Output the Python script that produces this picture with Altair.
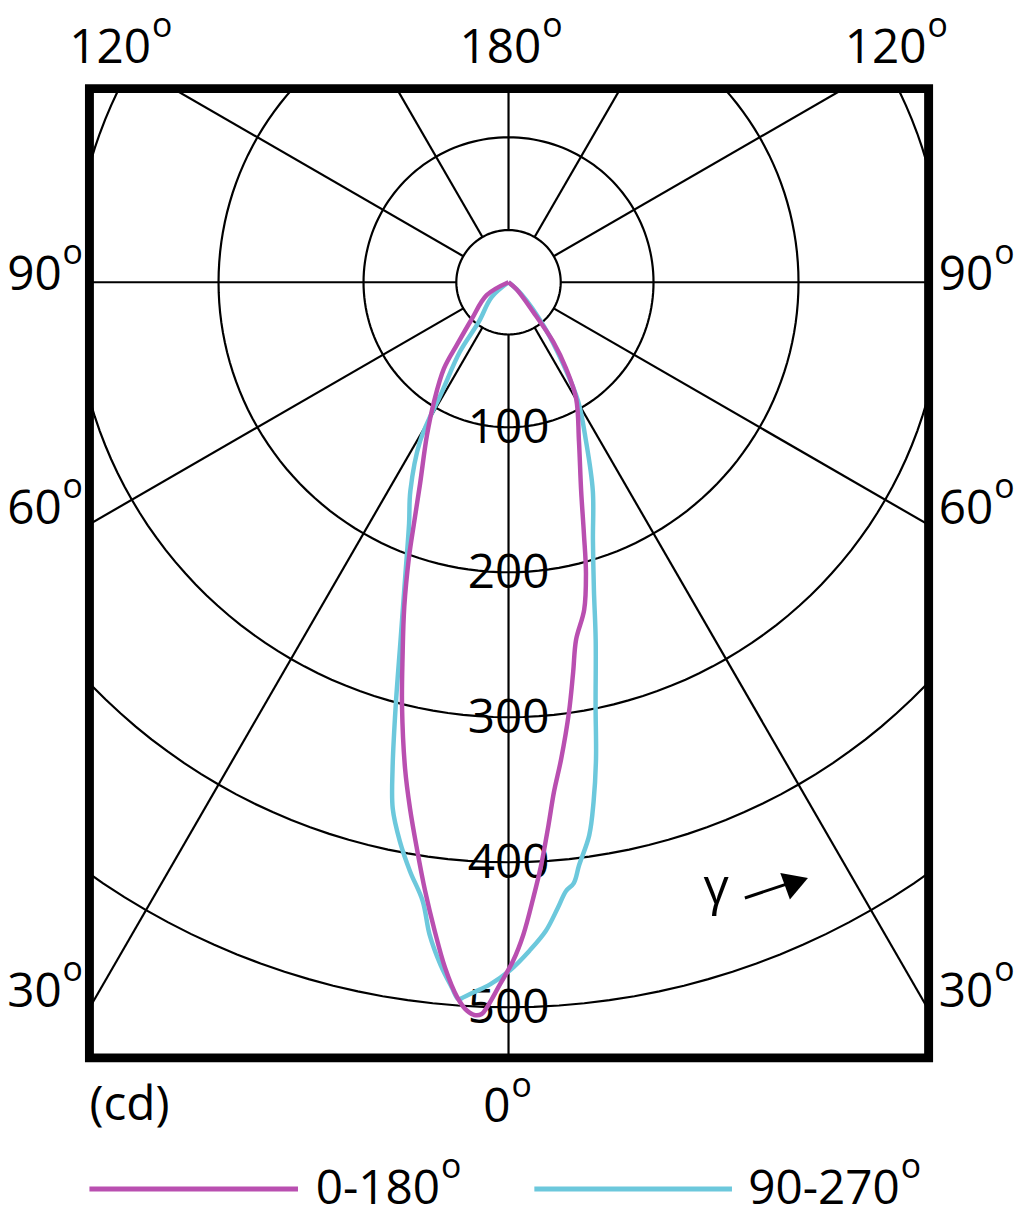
import altair as alt
import numpy as np
import pandas as pd

# ---------------- data ----------------
ring_values = [100, 200, 300, 400, 500]          # cd rings
inner_ring = 36                                  # small centre ring (cd)
spoke_angles = [-150, -120, -90, -60, -30, 0, 30, 60, 90, 120, 150, 180]

series_names = ["0-180°", "90-270°"]
series_colors = ["#B94FB0", "#6CC8DC"]

# C0-180 plane: signed gamma (deg, negative = left half) and intensity (cd)
c0_gamma = [-180, -59.4, -45, -39.5, -36.8, -32, -28, -23.7, -21.4, -19.9, -17.8, -15.8,
            -14.1, -12.0, -10.6, -9.2, -7.8, -6.5, -5.3, -4.1, -3.3, -2.6, -2.1, -1.7,
            -0.7, 0.4, 1.3, 2.3, 3.2, 4.2, 5.1, 6.3, 8.0, 9.4, 10.7, 13.0, 14.9, 16.7,
            19.2, 23.9, 30.2, 33.7, 36.9, 39.8, 48.8, 180]
c0_cd = [0, 17.5, 35.8, 56, 74.4, 96.9, 120, 151.8, 178.7, 201.7, 235.2, 268.4,
         301.5, 343.1, 369.3, 395.5, 423.8, 450.1, 474.6, 494.4, 502.9, 506.0, 505.0, 500.2,
         484.3, 467.8, 450.1, 425.0, 402.7, 375.7, 352.8, 330.8, 299.5, 272.8, 250.9, 231.9,
         207.7, 180.9, 152.3, 119.9, 92.7, 71.6, 51.4, 26.8, 7.3, 0]

# C90-270 plane
c90_gamma = [-180, -48.6, -36.9, -35.0, -31.3, -29.1, -25.2, -22.4, -19.5, -16.8, -14.9,
             -13.4, -12.4, -11.0, -9.5, -7.9, -6.9, -5.7, -4.6, -4.0, -3.6, -2.8, -1.5,
             0.1, 1.8, 3.3, 4.5, 5.4, 6.2, 6.9, 8.3, 9.3, 10.4, 11.6, 13.7, 15.5, 18.1,
             22.0, 26.0, 30.3, 33.8, 38.7, 47.3, 180]
c90_cd = [0, 15.5, 34.2, 58.5, 88.2, 125.4, 159.0, 180.0, 212.9, 257.6, 302.7,
          345.1, 371.8, 392.8, 411.8, 430.8, 453.2, 472.9, 487.9, 495.7, 494.1, 490.3, 484.4,
          474.7, 461.2, 448.0, 432.9, 421.7, 416.8, 405.0, 385.5, 363.0, 334.2, 298.6, 253.8,
          220.4, 187.4, 155.2, 121.9, 95.2, 67.6, 39.5, 12.1, 0]

angle_labels_top = ["120", "180", "120"]
angle_labels_left = ["90", "60", "30"]
angle_labels_right = ["90", "60", "30"]
bottom_label = "0"
unit_label = "(cd)"
gamma_label = "γ"

# ---------------- layout ----------------
PX = 1.46                      # pixels per cd
CX, CY = 512, 280              # page position of the pole
L, R, T, B = 90, 935, 85, 1061 # frame (page px)
W, H = R - L, B - T
FONT = "Open Sans"
FS = 48
SUP = 34
INK = "#000000"

xs = alt.Scale(domain=[(L - CX) / PX, (R - CX) / PX], nice=False, zero=False)
ys = alt.Scale(domain=[(CY - B) / PX, (CY - T) / PX], nice=False, zero=False)

# ---------------- grid ----------------
rows = []
for r in [inner_ring] + ring_values:
    for i, t in enumerate(np.arange(0, 361, 2)):
        a = np.radians(t)
        rows.append({"ring": r, "idx": i, "x": r * np.sin(a), "y": r * np.cos(a)})
circ_df = pd.DataFrame(rows)
circles = alt.Chart(circ_df).mark_line(color=INK, strokeWidth=2.2, clip=True).encode(
    x=alt.X("x:Q", scale=xs, axis=None),
    y=alt.Y("y:Q", scale=ys, axis=None),
    detail="ring:N",
    order="idx:Q",
)

sp = []
for g in spoke_angles:
    a = np.radians(g)
    sp.append({"x": inner_ring * np.sin(a), "y": -inner_ring * np.cos(a),
               "x2": 1000 * np.sin(a), "y2": -1000 * np.cos(a)})
spokes = alt.Chart(pd.DataFrame(sp)).mark_rule(color=INK, strokeWidth=2.2, clip=True).encode(
    x=alt.X("x:Q", scale=xs, axis=None), y=alt.Y("y:Q", scale=ys, axis=None),
    x2="x2:Q", y2="y2:Q",
)

ring_df = pd.DataFrame({"x": [0] * len(ring_values), "y": [-v for v in ring_values],
                        "t": [str(v) for v in ring_values]})
ring_text = alt.Chart(ring_df).mark_text(font=FONT, fontSize=FS, color=INK,
                                         align="center", baseline="middle", dy=2).encode(
    x=alt.X("x:Q", scale=xs, axis=None), y=alt.Y("y:Q", scale=ys, axis=None), text="t:N")

# ---------------- curves ----------------
crows = []
for name, gs, cds in [(series_names[1], c90_gamma, c90_cd), (series_names[0], c0_gamma, c0_cd)]:
    for i, (g, v) in enumerate(zip(gs, cds)):
        a = np.radians(g)
        crows.append({"series": name, "idx": i, "x": v * np.sin(a), "y": -v * np.cos(a)})
cur_df = pd.DataFrame(crows)
curves = [
    alt.Chart(cur_df[cur_df.series == n]).mark_line(
        strokeWidth=4.5, clip=True, interpolate="catmull-rom", strokeJoin="round"
    ).encode(
        x=alt.X("x:Q", scale=xs, axis=None), y=alt.Y("y:Q", scale=ys, axis=None),
        order="idx:Q",
        color=alt.Color("series:N", scale=alt.Scale(domain=series_names, range=series_colors),
                        legend=None),
    )
    for n in [series_names[1], series_names[0]]
]

# ---------------- text labels (page px placement) ----------------
def txt(s, px, py, size=FS, align="left", baseline="alphabetic"):
    return alt.Chart(pd.DataFrame({"t": [s]})).mark_text(
        font=FONT, fontSize=size, color=INK, align=align, baseline=baseline
    ).encode(text="t:N", x=alt.value(px - L), y=alt.value(py - T))

def deg(s, jx, by):
    return [txt(s, jx, by, align="right"), txt("o", jx + 1, by - 26, size=SUP)]

labels = []
for s, jx in zip(angle_labels_top, [152, 545, 933]):
    labels += deg(s, jx, 59)
for s, by in zip(angle_labels_left, [288, 523, 1010]):
    labels += deg(s, 62, by)
for s, by in zip(angle_labels_right, [288, 523, 1010]):
    labels += deg(s, 1000, by)
labels += deg(bottom_label, 514, 1126)
labels.append(txt(unit_label, 90, 1124))

# legend
legend = []
for name, col, x0, x1, jx in [(series_names[0], series_colors[0], 90, 300, 443),
                              (series_names[1], series_colors[1], 538, 737, 906)]:
    legend.append(alt.Chart(pd.DataFrame({"s": [name]})).mark_rule(color=col, strokeWidth=5).encode(
        x=alt.value(x0 - L), x2=alt.value(x1 - L), y=alt.value(1193 - T)))
    legend += deg(name.rstrip("°"), jx, 1208)

# gamma arrow
arrow = [
    txt(gamma_label, 721, 906, size=50, align="center"),
    alt.Chart(pd.DataFrame({"s": ["a"]})).mark_rule(color=INK, strokeWidth=3).encode(
        x=alt.value(750 - L), x2=alt.value(795 - L), y=alt.value(900 - T), y2=alt.value(885 - T)),
    alt.Chart(pd.DataFrame({"s": ["a"]})).mark_point(
        shape="triangle-right", filled=True, color=INK, size=800, angle=340, opacity=1
    ).encode(x=alt.value(802 - L), y=alt.value(884 - T)),
]

chart = alt.layer(circles, spokes, ring_text, *curves, *labels, *legend, *arrow).properties(
    width=W, height=H,
    padding={"left": L - 8, "top": T - 8, "right": 88, "bottom": 1221 - 8 - B},
    autosize=alt.AutoSizeParams(type="none"),
    background="white",
).configure_view(stroke="black", strokeWidth=9)

chart.save("out.html", embed_options={"renderer": "svg", "actions": False})
